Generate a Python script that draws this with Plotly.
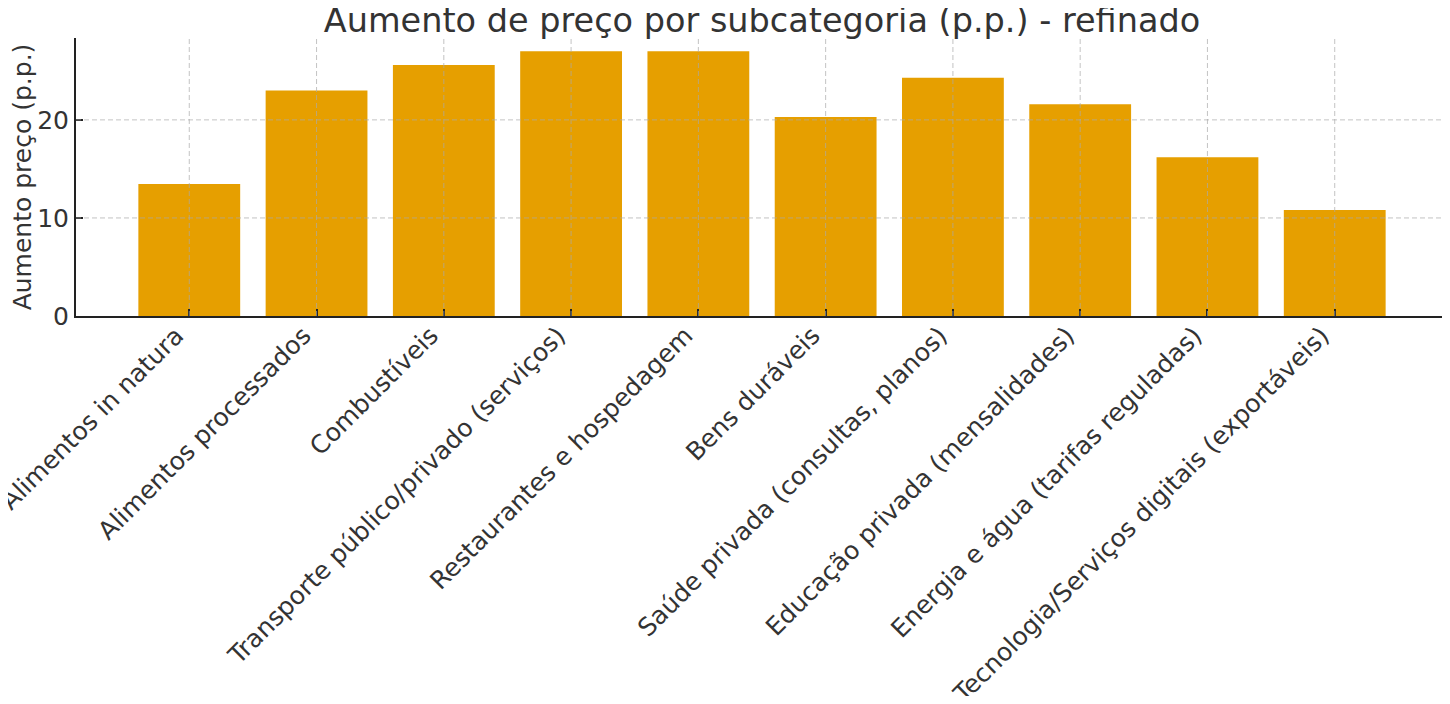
import plotly.graph_objects as go

categorias = [
    "Alimentos in natura",
    "Alimentos processados",
    "Combustíveis",
    "Transporte público/privado (serviços)",
    "Restaurantes e hospedagem",
    "Bens duráveis",
    "Saúde privada (consultas, planos)",
    "Educação privada (mensalidades)",
    "Energia e água (tarifas reguladas)",
    "Tecnologia/Serviços digitais (exportáveis)",
]
aumento = [13.45, 23.0, 25.6, 27.0, 27.0, 20.3, 24.3, 21.6, 16.2, 10.8]
y_ticks = [0, 10, 20]

cor_barra = "#E69F00"
cor_texto = "#333333"
cor_eixo = "#222222"
cor_grade = "rgba(170,170,170,0.7)"
fonte = "DejaVu Sans"

fig = go.Figure()
fig.add_trace(go.Bar(
    x=categorias,
    y=aumento,
    width=0.8,
    marker=dict(color=cor_barra, line=dict(width=0)),
))

# grade tracejada por cima das barras (como no original)
shapes = []
for v in y_ticks[1:]:
    shapes.append(dict(type="line", xref="paper", yref="y", x0=0, x1=1, y0=v, y1=v,
                       line=dict(color=cor_grade, width=1, dash="5px,3px"), layer="above"))
for c in categorias:
    shapes.append(dict(type="line", xref="x", yref="paper", x0=c, x1=c, y0=0, y1=1,
                       line=dict(color=cor_grade, width=1, dash="5px,3px"), layer="above"))

# a página tem 8px de margem no body: figura um pouco menor para caber na janela
fig.update_layout(
    width=1442,
    height=688,
    margin=dict(l=68, r=2, t=30, b=380),
    plot_bgcolor="white",
    paper_bgcolor="white",
    showlegend=False,
    font=dict(family=fonte, color=cor_texto, size=25),
    title=dict(
        text="Aumento de preço por subcategoria (p.p.) - refinado",
        font=dict(family=fonte, size=33.5, color=cor_texto),
        x=0.5, xref="paper", xanchor="center",
        y=1, yref="paper", yanchor="bottom",
        pad=dict(b=6),
    ),
    shapes=shapes,
    xaxis=dict(
        range=[-0.89, 9.89],
        tickangle=-45,
        showgrid=False,
        showline=True,
        linecolor=cor_eixo,
        linewidth=2,
        ticks="inside",
        ticklen=7,
        tickwidth=1.5,
        tickcolor=cor_eixo,
        tickfont=dict(family=fonte, size=25, color=cor_texto),
        ticklabelshift=-13,
        ticklabelstandoff=-7,
        automargin=False,
    ),
    yaxis=dict(
        range=[0, 28.35],
        tickvals=y_ticks,
        showgrid=False,
        zeroline=False,
        showline=True,
        linecolor=cor_eixo,
        linewidth=2,
        ticks="inside",
        ticklen=7,
        tickwidth=1.5,
        tickcolor=cor_eixo,
        tickfont=dict(family=fonte, size=25, color=cor_texto),
        title=dict(text="Aumento preço (p.p.)", standoff=8,
                   font=dict(family=fonte, size=25, color=cor_texto)),
        automargin=False,
    ),
)

fig.write_html("out.html")
